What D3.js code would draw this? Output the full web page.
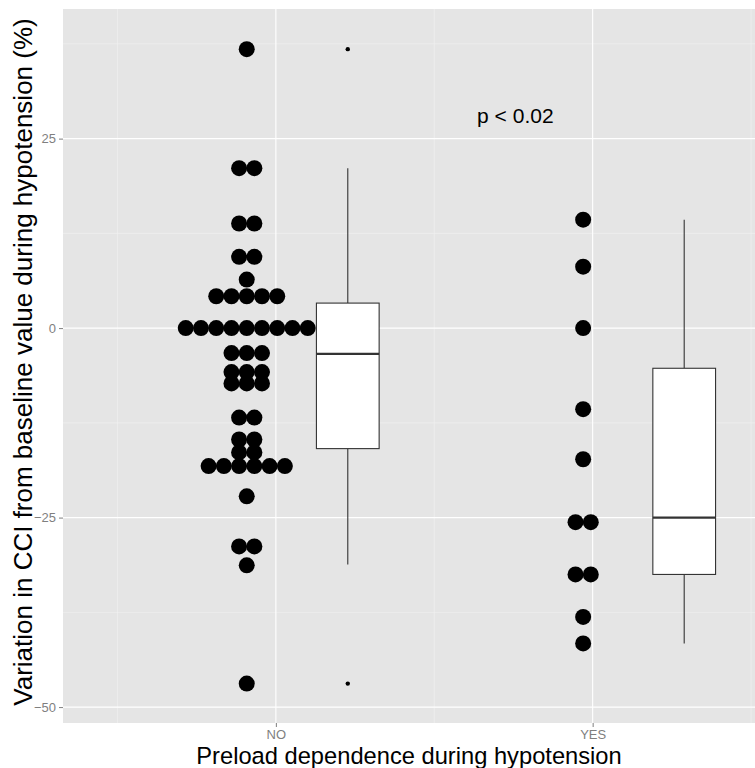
<!DOCTYPE html>
<html>
<head>
<meta charset="utf-8">
<script src="https://cdn.jsdelivr.net/npm/d3@7"></script>
<style>
  body { margin: 0; background: #fff; }
  svg { display: block; font-family: "Liberation Sans", Arial, sans-serif; }
</style>
</head>
<body>
<svg id="chart"></svg>
<script>
// Canvas size
const width = 755;
const height = 768;

const PANEL_BG = "#E5E5E5";
const MINOR_GRID = "#F2F2F2";
const TICK_GREY = "#7F7F7F";
const BOX_LINE = "#333333";

// Categories on the x axis
const groups = ["NO", "YES"];

// One entry per dot of the dot plot (values in %)
const noDots = [36.8, 21.1, 21.1, 13.8, 13.8, 9.4, 9.4, 6.4,
  4.2, 4.2, 4.2, 4.2, 4.2,
  0, 0, 0, 0, 0, 0, 0, 0, 0,
  -3.3, -3.3, -3.3, -5.8, -5.8, -5.8, -7.3, -7.3, -7.3,
  -11.8, -11.8, -14.7, -14.7, -16.4, -16.4,
  -18.2, -18.2, -18.2, -18.2, -18.2, -18.2,
  -22.2, -28.8, -28.8, -31.3, -46.9];
const yesDots = [14.3, 8.1, 0, -10.7, -17.3, -25.6, -25.6, -32.5, -32.5, -38.1, -41.6];

// Box plot summaries: lower whisker, Q1, median, Q3, upper whisker
const noBox = [-31.2, -15.9, -3.4, 3.3, 21.1];
const yesBox = [-41.6, -32.5, -25.0, -5.3, 14.3];
const noOutliers = [36.8, -46.9];
const yesOutliers = [];

// Axis ticks
const yTicks = [-50, -25, 0, 25];
const yMinorTicks = [-37.5, -12.5, 12.5, 37.5];

const pLabel = "p < 0.02";

const series = [
  { name: groups[0], dots: noDots, box: noBox, outliers: noOutliers, dotShift: -0.092, boxShift: 0.227 },
  { name: groups[1], dots: yesDots, box: yesBox, outliers: yesOutliers, dotShift: -0.03, boxShift: 0.289 }
];

// Panel placement
const margin = { top: 9, right: 0, bottom: 45, left: 63 };
const panelW = width - margin.left - margin.right;
const panelH = height - margin.top - margin.bottom;

const svg = d3.select("#chart")
  .attr("width", width)
  .attr("height", height);

const x = d3.scaleLinear().domain([0.328, 2.5125]).range([0, panelW]);
const y = d3.scaleLinear().domain([-52.1, 42.1]).range([panelH, 0]);

const g = svg.append("g").attr("transform", `translate(${margin.left},${margin.top})`);

// Panel background
g.append("rect")
  .attr("width", panelW)
  .attr("height", panelH)
  .attr("fill", PANEL_BG);

// Minor grid
g.selectAll(".hminor")
  .data(yMinorTicks)
  .enter()
  .append("line")
  .attr("x1", 0).attr("x2", panelW)
  .attr("y1", d => y(d)).attr("y2", d => y(d))
  .attr("stroke", MINOR_GRID)
  .attr("stroke-width", 0.6);

g.selectAll(".vminor")
  .data([0.5, 1.5, 2.5])
  .enter()
  .append("line")
  .attr("x1", d => x(d)).attr("x2", d => x(d))
  .attr("y1", 0).attr("y2", panelH)
  .attr("stroke", MINOR_GRID)
  .attr("stroke-width", 0.6);

// Major grid
g.selectAll(".hmajor")
  .data(yTicks)
  .enter()
  .append("line")
  .attr("x1", 0).attr("x2", panelW)
  .attr("y1", d => y(d)).attr("y2", d => y(d))
  .attr("stroke", "white")
  .attr("stroke-width", 1.1);

g.selectAll(".vmajor")
  .data(groups)
  .enter()
  .append("line")
  .attr("x1", (d, i) => x(i + 1)).attr("x2", (d, i) => x(i + 1))
  .attr("y1", 0).attr("y2", panelH)
  .attr("stroke", "white")
  .attr("stroke-width", 1.1);

// Dot plot: dots with the same value are stacked sideways, centred
const DOT_R = 8;
const DOT_STEP = 15.25;

series.forEach((s, i) => {
  const cx = x(i + 1 + s.dotShift);
  const rows = d3.groups(s.dots, d => d);
  rows.forEach(([value, list]) => {
    const n = list.length;
    list.forEach((v, k) => {
      g.append("circle")
        .attr("cx", cx + (k - (n - 1) / 2) * DOT_STEP)
        .attr("cy", y(value))
        .attr("r", DOT_R)
        .attr("fill", "black");
    });
  });
});

// Box plots
const BOX_W = 0.198;

series.forEach((s, i) => {
  const cx = x(i + 1 + s.boxShift);
  const x0 = x(i + 1 + s.boxShift - BOX_W / 2);
  const x1 = x(i + 1 + s.boxShift + BOX_W / 2);
  const [lo, q1, med, q3, hi] = s.box;

  const bg = g.append("g");

  bg.append("line")
    .attr("x1", cx).attr("x2", cx)
    .attr("y1", y(hi)).attr("y2", y(q3))
    .attr("stroke", BOX_LINE).attr("stroke-width", 1.1);
  bg.append("line")
    .attr("x1", cx).attr("x2", cx)
    .attr("y1", y(q1)).attr("y2", y(lo))
    .attr("stroke", BOX_LINE).attr("stroke-width", 1.1);

  bg.append("rect")
    .attr("x", x0)
    .attr("y", y(q3))
    .attr("width", x1 - x0)
    .attr("height", y(q1) - y(q3))
    .attr("fill", "white")
    .attr("stroke", BOX_LINE)
    .attr("stroke-width", 1.1);

  bg.append("line")
    .attr("x1", x0).attr("x2", x1)
    .attr("y1", y(med)).attr("y2", y(med))
    .attr("stroke", BOX_LINE).attr("stroke-width", 2.2);

  bg.selectAll("circle")
    .data(s.outliers)
    .enter()
    .append("circle")
    .attr("cx", cx)
    .attr("cy", d => y(d))
    .attr("r", 2.2)
    .attr("fill", "black");
});

// Annotation
g.append("text")
  .attr("x", x(1.756))
  .attr("y", y(28))
  .attr("dy", "0.35em")
  .attr("text-anchor", "middle")
  .attr("font-size", 21)
  .attr("fill", "black")
  .text(pLabel);

// Y axis
const yAxis = g.append("g")
  .call(d3.axisLeft(y).tickValues(yTicks).tickSize(4).tickPadding(3));
yAxis.select(".domain").remove();
yAxis.selectAll("line").attr("stroke", TICK_GREY);
yAxis.selectAll("text")
  .attr("fill", TICK_GREY)
  .attr("font-size", 13)
  .attr("font-family", "Liberation Sans, Arial, sans-serif");

// X axis
const xAxis = g.append("g")
  .attr("transform", `translate(0,${panelH})`)
  .call(d3.axisBottom(x).tickValues([1, 2]).tickFormat((d, i) => groups[i]).tickSize(4).tickPadding(3));
xAxis.select(".domain").remove();
xAxis.selectAll("line").attr("stroke", TICK_GREY);
xAxis.selectAll("text")
  .attr("fill", TICK_GREY)
  .attr("font-size", 13)
  .attr("font-family", "Liberation Sans, Arial, sans-serif");

// Axis titles
svg.append("text")
  .attr("x", margin.left + panelW / 2)
  .attr("y", 764)
  .attr("text-anchor", "middle")
  .attr("font-size", 23.7)
  .attr("fill", "black")
  .text("Preload dependence during hypotension");

svg.append("text")
  .attr("transform", `translate(32,362) rotate(-90)`)
  .attr("text-anchor", "middle")
  .attr("font-size", 26)
  .attr("fill", "black")
  .text("Variation in CCI from baseline value during hypotension (%)");
</script>
</body>
</html>
